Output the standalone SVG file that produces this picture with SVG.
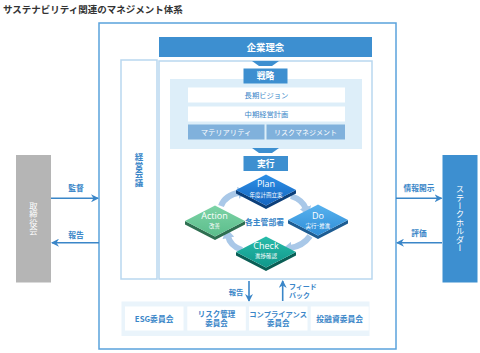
<svg xmlns="http://www.w3.org/2000/svg" width="480" height="353" viewBox="0 0 480 353">
<style>
text{font-family:"Noto Sans CJK JP","Noto Sans",sans-serif;}
.t{font-size:9.5px;font-weight:700;fill:#333;}
.wb{fill:#fff;font-weight:700;text-anchor:middle;}
.wn{fill:#fff;text-anchor:middle;}
.bl{fill:#3a86c8;text-anchor:middle;}
.bs{fill:#3a86c8;}
.blb{fill:#3a86c8;text-anchor:middle;font-weight:700;}
.frame{fill:#fff;stroke:#b9d7ef;stroke-width:1.5;}
.dk{fill:#3d8fd0;}
.wbox{fill:#fff;}
.mbox{fill:#80b1dc;}
.pd{font-family:"Open Sans","Noto Sans",sans-serif;font-size:9px;fill:#fff;text-anchor:middle;}
.ps{font-size:5.5px;fill:#fff;text-anchor:middle;}
.cyc{fill:none;stroke:#a9c8e8;stroke-width:6;marker-end:url(#ah2);}
.ar{fill:none;stroke:#3a86c8;stroke-width:1.6;}
.vt{writing-mode:vertical-rl;text-anchor:middle;}
</style>
<defs>
<marker id="ah" viewBox="0 0 8 8" refX="7" refY="4" markerWidth="8" markerHeight="8" markerUnits="userSpaceOnUse" orient="auto">
<path d="M0,0 L8,4 L0,8 L2.5,4 z" fill="#3a86c8"/>
</marker>
<marker id="ah2" viewBox="0 0 10 12" refX="2" refY="6" markerWidth="10" markerHeight="12" markerUnits="userSpaceOnUse" orient="auto">
<path d="M0,0 L10,6 L0,12 z" fill="#a9c8e8"/>
</marker>
<linearGradient id="gP" x1="0" y1="0" x2="0" y2="1"><stop offset="0" stop-color="#2e90e6"/><stop offset="1" stop-color="#1565c0"/></linearGradient>
<linearGradient id="gA" x1="0" y1="0" x2="0" y2="1"><stop offset="0" stop-color="#7dd3a6"/><stop offset="1" stop-color="#5bbd8b"/></linearGradient>
<linearGradient id="gD" x1="0" y1="0" x2="0" y2="1"><stop offset="0" stop-color="#58b2ee"/><stop offset="1" stop-color="#2f8ed8"/></linearGradient>
<linearGradient id="gC" x1="0" y1="0" x2="0" y2="1"><stop offset="0" stop-color="#28bcaa"/><stop offset="1" stop-color="#10978a"/></linearGradient>
</defs>

<text class="t" x="3" y="13">サステナビリティ関連のマネジメント体系</text>

<g id="outer-frame">
<rect x="99" y="23" width="297" height="326" fill="#fff" stroke="#5aa2dc" stroke-width="1.5"/>
</g>

<g id="keiei-kaigi">
<rect class="frame" x="121" y="60" width="36" height="219"/>
<text class="blb vt" x="139" y="170" font-size="8.5">経営会議</text>
</g>

<g id="main-frame">
<rect class="frame" x="159" y="61" width="213" height="218"/>
</g>

<g id="kigyo-rinen">
<rect class="dk" x="159" y="37" width="213" height="20"/>
<text class="wb" x="265.5" y="50.5" font-size="9.4">企業理念</text>
</g>

<g id="strategy-area">
<rect x="170" y="79" width="192" height="70" fill="#ddeef9"/>
</g>

<g id="tri1"><polygon class="dk" points="252,61 279,61 272,66 259,66"/></g>

<g id="senryaku">
<rect class="dk" x="243.5" y="68.5" width="44" height="15"/>
<text class="wb" x="265.5" y="79.3" font-size="8.8">戦略</text>
</g>

<g id="vision">
<rect class="wbox" x="188" y="87.5" width="157" height="15"/>
<text class="bl" x="266.5" y="98" font-size="7.3">長期ビジョン</text>
</g>
<g id="mid-plan">
<rect class="wbox" x="188" y="106.5" width="157" height="15"/>
<text class="bl" x="266.5" y="117" font-size="7.3">中期経営計画</text>
</g>
<g id="materiality">
<rect class="mbox" x="188" y="124.5" width="76.5" height="15"/>
<text class="wn" x="226" y="135" font-size="7.3">マテリアリティ</text>
</g>
<g id="risk-mgmt">
<rect class="mbox" x="266.5" y="124.5" width="78.5" height="15"/>
<text class="wn" x="305.5" y="135" font-size="7">リスクマネジメント</text>
</g>

<g id="tri2"><polygon class="dk" points="252,148 279,148 272,153 259,153"/></g>

<g id="jikko">
<rect class="dk" x="243.5" y="156" width="44.5" height="15"/>
<text class="wb" x="265.7" y="166.8" font-size="8.8">実行</text>
</g>

<g id="connectors">
<path class="cyc" d="M221,206 Q225,195 240,192.5"/>
<path class="cyc" d="M291,196 Q303,200 306,209"/>
<path class="cyc" d="M310,236 Q303,246 290,248"/>
<path class="cyc" d="M242,250 Q230,246 228,236"/>
<line class="ar" x1="51" y1="198.3" x2="98" y2="198.3" marker-end="url(#ah)"/>
<line class="ar" x1="99" y1="242.7" x2="52" y2="242.7" marker-end="url(#ah)"/>
<line class="ar" x1="396" y1="198.3" x2="441.5" y2="198.3" marker-end="url(#ah)"/>
<line class="ar" x1="442" y1="242.7" x2="397" y2="242.7" marker-end="url(#ah)"/>
<line class="ar" x1="249" y1="281" x2="249" y2="301" marker-end="url(#ah)"/>
<line class="ar" x1="282.7" y1="301" x2="282.7" y2="281" marker-end="url(#ah)"/>
<text class="blb" x="76" y="190.5" font-size="7.8">監督</text>
<text class="blb" x="76" y="238.3" font-size="7.8">報告</text>
<text class="blb" x="419" y="190.5" font-size="7.7">情報開示</text>
<text class="blb" x="419" y="236.3" font-size="7.7">評価</text>
<text class="blb" x="236" y="295" font-size="7.3">報告</text>
<text class="bs" x="289" y="289" font-size="7" font-weight="700">フィード</text>
<text class="bs" x="289" y="297.5" font-size="7" font-weight="700">バック</text>
</g>

<g id="plan">
<polygon points="236,190 266,205.5 296,190 296,193.5 266,209 236,193.5" fill="#0c3f7a"/>
<polygon points="266,174.5 296,190 266,205.5 236,190" fill="url(#gP)"/>
<text class="pd" x="266" y="186.5">Plan</text>
<text class="ps" x="266" y="196.5">年度計画立案</text>
</g>

<g id="action">
<polygon points="185,221 215,236.5 245,221 245,224.5 215,240 185,224.5" fill="#2e6e50"/>
<polygon points="215,205.5 245,221 215,236.5 185,221" fill="url(#gA)"/>
<text class="pd" x="214.5" y="219.3">Action</text>
<text class="ps" x="214.5" y="228.3">改善</text>
</g>

<g id="do">
<polygon points="288,220 318,235.5 348,220 348,223.5 318,239 288,223.5" fill="#1d5c92"/>
<polygon points="318,204.5 348,220 318,235.5 288,220" fill="url(#gD)"/>
<text class="pd" x="318" y="219.3">Do</text>
<text class="ps" x="318" y="228">実行･推進</text>
</g>

<g id="check">
<polygon points="236,252 266,267.5 296,252 296,255.5 266,271 236,255.5" fill="#0a5e55"/>
<polygon points="266,236.5 296,252 266,267.5 236,252" fill="url(#gC)"/>
<text class="pd" x="266" y="249.3">Check</text>
<text class="ps" x="266" y="258.3">進捗確認</text>
</g>

<g id="kaku-shukan">
<text class="blb" x="264.5" y="224.5" font-size="7.8">各主管部署</text>
</g>

<g id="committees">
<rect x="121.5" y="301.5" width="248" height="34.5" fill="#eaf4fb"/>
<g id="esg">
<rect class="wbox" x="125" y="306.5" width="58.5" height="24"/>
<text class="blb" x="154.2" y="321.5" font-size="7.8">ESG委員会</text>
</g>
<g id="risk-committee">
<rect class="wbox" x="187.3" y="306.5" width="58.5" height="24"/>
<text class="blb" x="216.5" y="316.5" font-size="7.5">リスク管理</text>
<text class="blb" x="216.5" y="326.2" font-size="7.5">委員会</text>
</g>
<g id="compliance">
<rect class="wbox" x="249" y="306.5" width="58.5" height="24"/>
<text class="blb" x="278.2" y="316.5" font-size="7.3">コンプライアンス</text>
<text class="blb" x="278.2" y="326.2" font-size="7.5">委員会</text>
</g>
<g id="investment">
<rect class="wbox" x="310.7" y="306.5" width="58" height="24"/>
<text class="blb" x="339.7" y="321.5" font-size="7.8">投融資委員会</text>
</g>
</g>

<g id="board">
<rect x="16" y="155" width="35" height="127.5" fill="#b5b5b5"/>
<text class="wn vt" x="33.5" y="218.5" font-size="8.3">取締役会</text>
</g>

<g id="stakeholder">
<rect x="442.5" y="155" width="35" height="127.5" fill="#3d8fd0"/>
<text class="wn vt" x="460" y="218.5" font-size="8.4">ステークホルダー</text>
</g>
</svg>
